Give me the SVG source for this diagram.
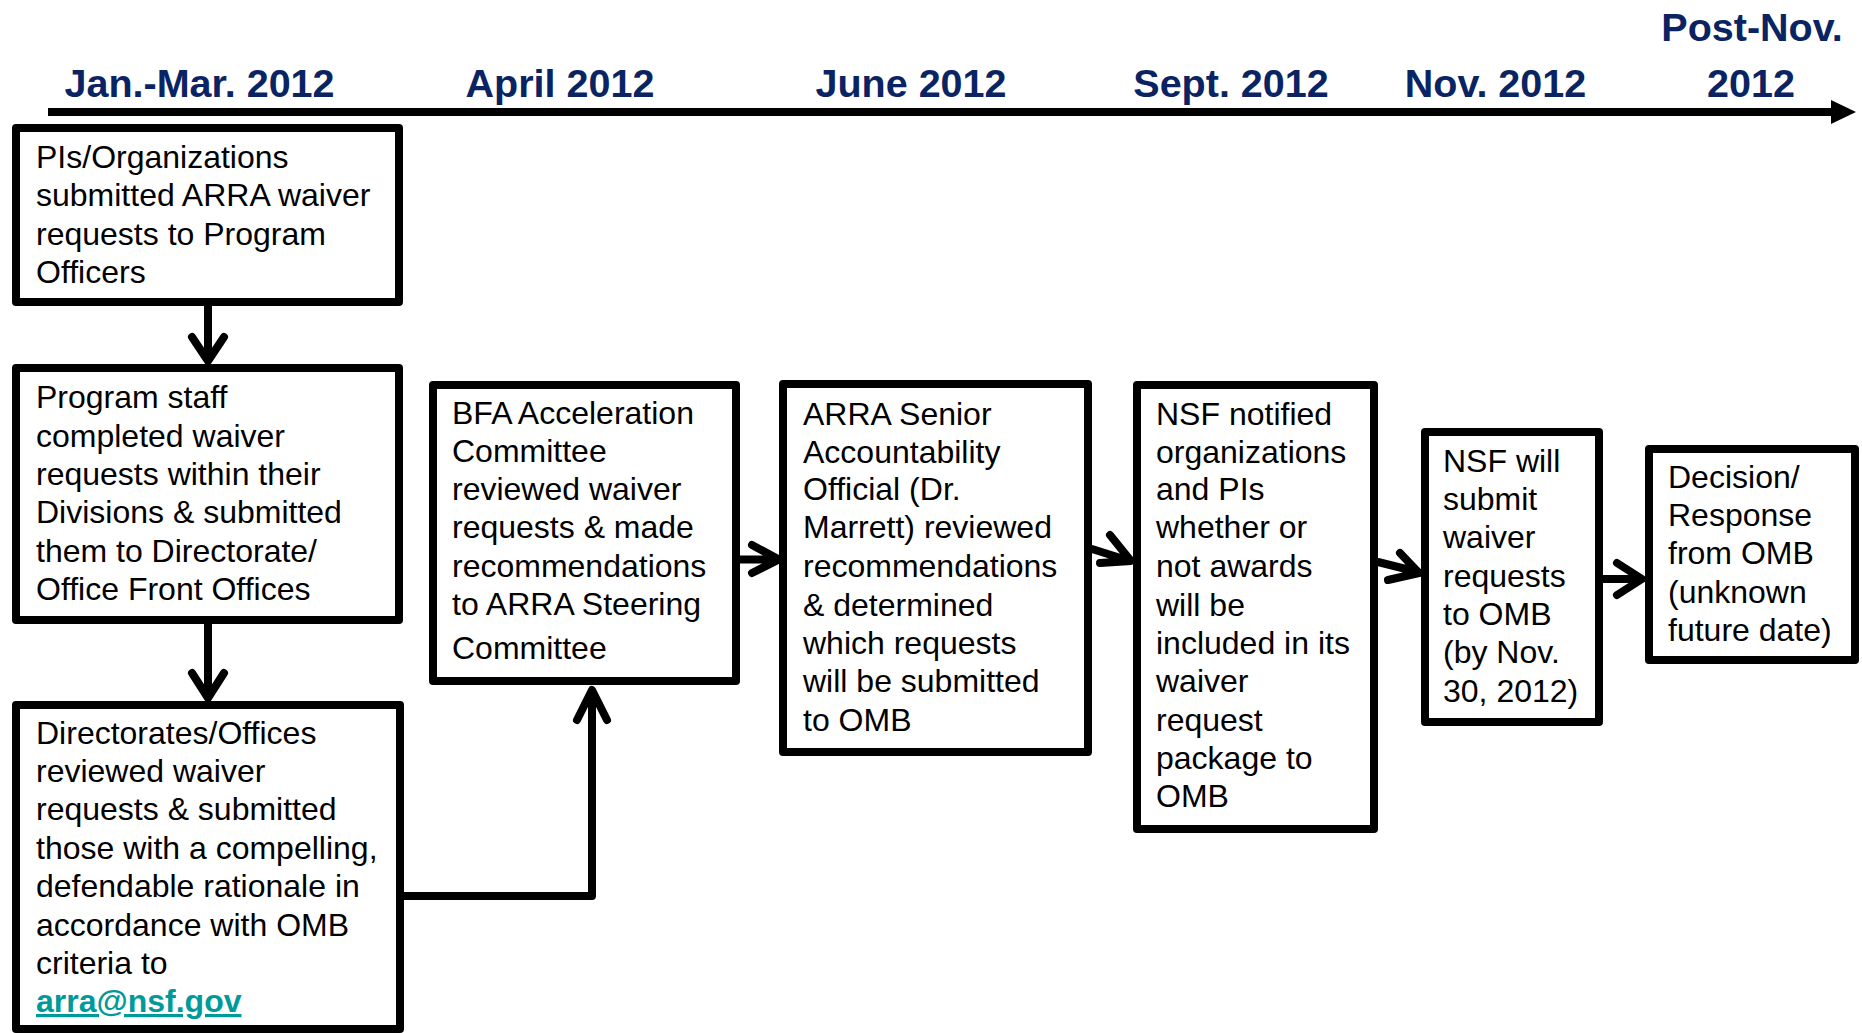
<svg xmlns="http://www.w3.org/2000/svg" width="1862" height="1033" viewBox="0 0 1862 1033">
<style>
.box{fill:#fff;stroke:#000;stroke-width:8;stroke-linejoin:round}
.t{font-family:"Liberation Sans",Arial,sans-serif;font-size:32px;fill:#000}
.h{font-family:"Liberation Sans",Arial,sans-serif;font-size:39.5px;font-weight:bold;fill:#0a2463;text-anchor:middle}
.c{fill:none;stroke:#000;stroke-width:8;stroke-linecap:round;stroke-linejoin:round}
.link{font-weight:bold;fill:#009a9a;text-decoration:underline}
</style>
<rect width="1862" height="1033" fill="#fff"/>
<g id="timeline">
<line x1="48" y1="112" x2="1834" y2="112" stroke="#000" stroke-width="8"/>
<polygon points="1831,100 1856,112 1831,124" fill="#000"/>
<text class="h" x="199.5" y="97">Jan.-Mar. 2012</text>
<text class="h" x="560" y="97">April 2012</text>
<text class="h" x="911" y="97">June 2012</text>
<text class="h" x="1231" y="97">Sept. 2012</text>
<text class="h" x="1495.5" y="97">Nov. 2012</text>
<text class="h" x="1752" y="41">Post-Nov.</text>
<text class="h" x="1751" y="97">2012</text>
</g>
<g id="connectors">
<path class="c" d="M208,306 V360 M192,337 L208,361 L224,337"/>
<path class="c" d="M208,624 V697 M192,673 L208,698 L224,673"/>
<path class="c" d="M404,896 H592 V690" style="stroke-linecap:butt"/>
<path class="c" d="M577,720 L592,690 L607,720"/>
<path class="c" d="M740,559.5 H778 M752,545 L779,559.5 L752,573"/>
<path class="c" d="M1092,549 L1130,561 M1110,535 L1131,561 L1100,563"/>
<path class="c" d="M1378,562 L1418,572 M1400,553 L1419,573 L1388,580"/>
<path class="c" d="M1603,579 H1641 M1617,563 L1642,579 L1617,595"/>
</g>
<g id="n1">
<rect class="box" x="16" y="128" width="383" height="174"/>
<text class="t"><tspan x="36" y="168">PIs/Organizations</tspan><tspan x="36" y="206">submitted ARRA waiver</tspan><tspan x="36" y="245">requests to Program</tspan><tspan x="36" y="283">Officers</tspan></text>
</g>
<g id="n2">
<rect class="box" x="16" y="368" width="383" height="252"/>
<text class="t"><tspan x="36" y="408">Program staff</tspan><tspan x="36" y="447">completed waiver</tspan><tspan x="36" y="485">requests within their</tspan><tspan x="36" y="523">Divisions &amp; submitted</tspan><tspan x="36" y="562">them to Directorate/</tspan><tspan x="36" y="600">Office Front Offices</tspan></text>
</g>
<g id="n3">
<rect class="box" x="16" y="705" width="384" height="324"/>
<text class="t"><tspan x="36" y="744">Directorates/Offices</tspan><tspan x="36" y="782">reviewed waiver</tspan><tspan x="36" y="820">requests &amp; submitted</tspan><tspan x="36" y="859">those with a compelling,</tspan><tspan x="36" y="897">defendable rationale in</tspan><tspan x="36" y="936">accordance with OMB</tspan><tspan x="36" y="974">criteria to</tspan><tspan x="36" y="1012" class="link">arra@nsf.gov</tspan></text>
</g>
<g id="n4">
<rect class="box" x="433" y="385" width="303" height="296"/>
<text class="t"><tspan x="452" y="424">BFA Acceleration</tspan><tspan x="452" y="462">Committee</tspan><tspan x="452" y="500">reviewed waiver</tspan><tspan x="452" y="538">requests &amp; made</tspan><tspan x="452" y="577">recommendations</tspan><tspan x="452" y="615">to ARRA Steering</tspan><tspan x="452" y="659">Committee</tspan></text>
</g>
<g id="n5">
<rect class="box" x="783" y="384" width="305" height="368"/>
<text class="t"><tspan x="803" y="425">ARRA Senior</tspan><tspan x="803" y="463">Accountability</tspan><tspan x="803" y="500">Official (Dr.</tspan><tspan x="803" y="538">Marrett) reviewed</tspan><tspan x="803" y="577">recommendations</tspan><tspan x="803" y="616">&amp; determined</tspan><tspan x="803" y="654">which requests</tspan><tspan x="803" y="692">will be submitted</tspan><tspan x="803" y="731">to OMB</tspan></text>
</g>
<g id="n6">
<rect class="box" x="1137" y="385" width="237" height="444"/>
<text class="t"><tspan x="1156" y="425">NSF notified</tspan><tspan x="1156" y="463">organizations</tspan><tspan x="1156" y="500">and PIs</tspan><tspan x="1156" y="538">whether or</tspan><tspan x="1156" y="577">not awards</tspan><tspan x="1156" y="616">will be</tspan><tspan x="1156" y="654">included in its</tspan><tspan x="1156" y="692">waiver</tspan><tspan x="1156" y="731">request</tspan><tspan x="1156" y="769">package to</tspan><tspan x="1156" y="807">OMB</tspan></text>
</g>
<g id="n7">
<rect class="box" x="1425" y="432" width="174" height="290"/>
<text class="t"><tspan x="1443" y="472">NSF will</tspan><tspan x="1443" y="510">submit</tspan><tspan x="1443" y="548">waiver</tspan><tspan x="1443" y="587">requests</tspan><tspan x="1443" y="625">to OMB</tspan><tspan x="1443" y="663">(by Nov.</tspan><tspan x="1443" y="702">30, 2012)</tspan></text>
</g>
<g id="n8">
<rect class="box" x="1649" y="449" width="206" height="211"/>
<text class="t"><tspan x="1668" y="488">Decision/</tspan><tspan x="1668" y="526">Response</tspan><tspan x="1668" y="564">from OMB</tspan><tspan x="1668" y="603">(unknown</tspan><tspan x="1668" y="641">future date)</tspan></text>
</g>
</svg>
